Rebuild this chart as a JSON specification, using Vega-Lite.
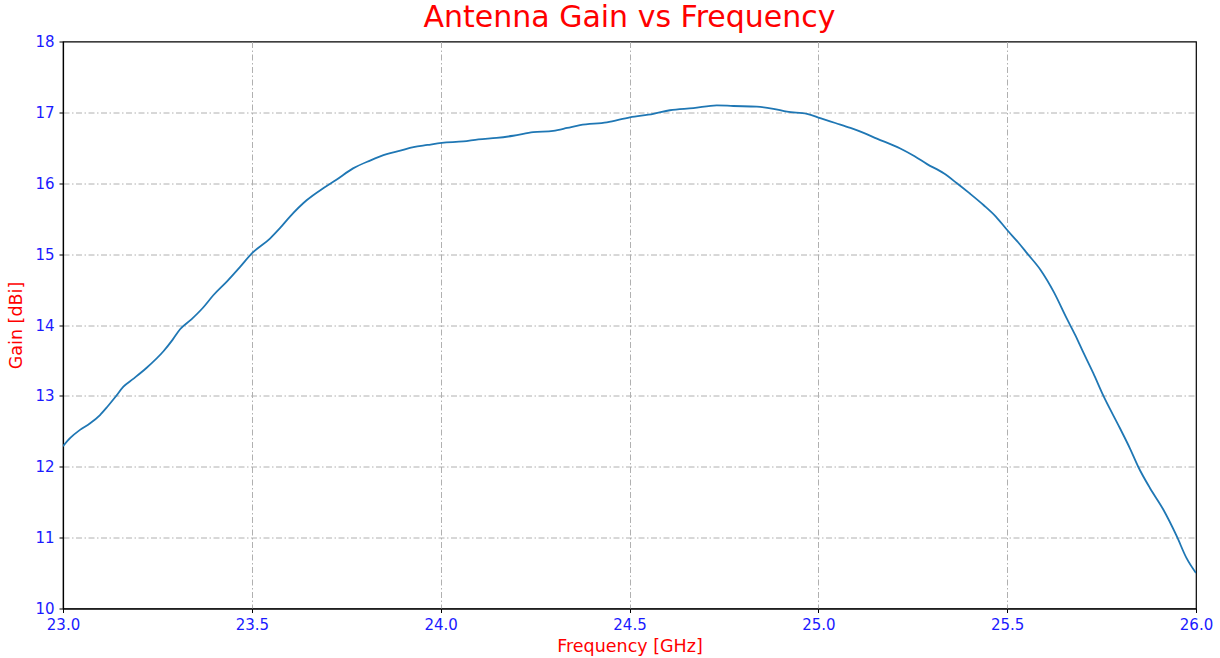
{
  "$schema": "https://vega.github.io/schema/vega-lite/v6.json",
  "autosize": "none",
  "width": 1133,
  "height": 567,
  "padding": {"left": 63, "top": 41.5, "right": 24, "bottom": 49.5},
  "background": "white",
  "title": {
    "text": "Antenna Gain vs Frequency",
    "color": "#ff0000",
    "font": "DejaVu Sans",
    "fontSize": 30,
    "fontWeight": "normal",
    "anchor": "middle",
    "offset": 2
  },
  "config": {
    "view": {"stroke": "black", "strokeWidth": 1.2},
    "axis": {
      "labelFont": "DejaVu Sans",
      "labelFontSize": 15,
      "labelColor": "#1a1aff",
      "titleFont": "DejaVu Sans",
      "titleFontSize": 17.5,
      "titleFontWeight": "normal",
      "titleColor": "#ff0000",
      "domainColor": "black",
      "domainWidth": 1.2,
      "tickColor": "black",
      "tickSize": 4,
      "tickWidth": 1,
      "grid": true,
      "gridColor": "#b0b0b0",
      "gridWidth": 1,
      "gridDash": [6, 2.5, 1.5, 2.5],
      "labelFlush": false
    }
  },
  "data": {
    "values": [
      {"f": 23.000, "g": 12.29},
      {"f": 23.020, "g": 12.41},
      {"f": 23.045, "g": 12.52},
      {"f": 23.071, "g": 12.61},
      {"f": 23.098, "g": 12.73},
      {"f": 23.118, "g": 12.85},
      {"f": 23.138, "g": 12.98},
      {"f": 23.160, "g": 13.13},
      {"f": 23.186, "g": 13.24},
      {"f": 23.220, "g": 13.39},
      {"f": 23.266, "g": 13.63},
      {"f": 23.290, "g": 13.79},
      {"f": 23.310, "g": 13.94},
      {"f": 23.340, "g": 14.08},
      {"f": 23.370, "g": 14.24},
      {"f": 23.398, "g": 14.42},
      {"f": 23.435, "g": 14.62},
      {"f": 23.469, "g": 14.82},
      {"f": 23.500, "g": 15.01},
      {"f": 23.548, "g": 15.22},
      {"f": 23.575, "g": 15.37},
      {"f": 23.601, "g": 15.53},
      {"f": 23.645, "g": 15.76},
      {"f": 23.689, "g": 15.93},
      {"f": 23.724, "g": 16.05},
      {"f": 23.768, "g": 16.21},
      {"f": 23.813, "g": 16.32},
      {"f": 23.857, "g": 16.41},
      {"f": 23.893, "g": 16.46},
      {"f": 23.928, "g": 16.51},
      {"f": 23.965, "g": 16.54},
      {"f": 24.003, "g": 16.57},
      {"f": 24.060, "g": 16.59},
      {"f": 24.100, "g": 16.62},
      {"f": 24.148, "g": 16.64},
      {"f": 24.192, "g": 16.67},
      {"f": 24.245, "g": 16.72},
      {"f": 24.298, "g": 16.74},
      {"f": 24.335, "g": 16.78},
      {"f": 24.369, "g": 16.82},
      {"f": 24.440, "g": 16.86},
      {"f": 24.501, "g": 16.93},
      {"f": 24.563, "g": 16.98},
      {"f": 24.607, "g": 17.03},
      {"f": 24.669, "g": 17.06},
      {"f": 24.731, "g": 17.10},
      {"f": 24.775, "g": 17.09},
      {"f": 24.837, "g": 17.08},
      {"f": 24.881, "g": 17.05},
      {"f": 24.917, "g": 17.01},
      {"f": 24.970, "g": 16.98},
      {"f": 25.005, "g": 16.92},
      {"f": 25.045, "g": 16.85},
      {"f": 25.085, "g": 16.78},
      {"f": 25.120, "g": 16.71},
      {"f": 25.155, "g": 16.63},
      {"f": 25.217, "g": 16.49},
      {"f": 25.255, "g": 16.38},
      {"f": 25.288, "g": 16.27},
      {"f": 25.332, "g": 16.14},
      {"f": 25.367, "g": 16.00},
      {"f": 25.400, "g": 15.86},
      {"f": 25.438, "g": 15.69},
      {"f": 25.470, "g": 15.53},
      {"f": 25.500, "g": 15.34},
      {"f": 25.530, "g": 15.16},
      {"f": 25.553, "g": 15.01},
      {"f": 25.588, "g": 14.78},
      {"f": 25.624, "g": 14.46},
      {"f": 25.657, "g": 14.10},
      {"f": 25.680, "g": 13.86},
      {"f": 25.701, "g": 13.62},
      {"f": 25.728, "g": 13.32},
      {"f": 25.754, "g": 13.01},
      {"f": 25.798, "g": 12.55},
      {"f": 25.825, "g": 12.26},
      {"f": 25.847, "g": 12.00},
      {"f": 25.878, "g": 11.70},
      {"f": 25.913, "g": 11.40},
      {"f": 25.949, "g": 11.02},
      {"f": 25.975, "g": 10.71},
      {"f": 26.000, "g": 10.50}
    ]
  },
  "mark": {"type": "line", "color": "#1f77b4", "strokeWidth": 1.8, "interpolate": "monotone", "clip": true},
  "encoding": {
    "x": {
      "field": "f",
      "type": "quantitative",
      "title": "Frequency [GHz]",
      "scale": {"domain": [23, 26], "nice": false, "zero": false},
      "axis": {
        "values": [23, 23.5, 24, 24.5, 25, 25.5, 26],
        "format": ".1f",
        "labelPadding": 5,
        "titlePadding": 5,
        "gridOpacity": {"condition": {"test": "datum.value <= 23 || datum.value >= 26", "value": 0}, "value": 1}
      }
    },
    "y": {
      "field": "g",
      "type": "quantitative",
      "title": "Gain [dBi]",
      "scale": {"domain": [10, 18], "nice": false, "zero": false},
      "axis": {
        "values": [10, 11, 12, 13, 14, 15, 16, 17, 18],
        "format": "d",
        "labelPadding": 5,
        "titlePadding": 9,
        "gridOpacity": {"condition": {"test": "datum.value <= 10 || datum.value >= 18", "value": 0}, "value": 1}
      }
    }
  }
}
